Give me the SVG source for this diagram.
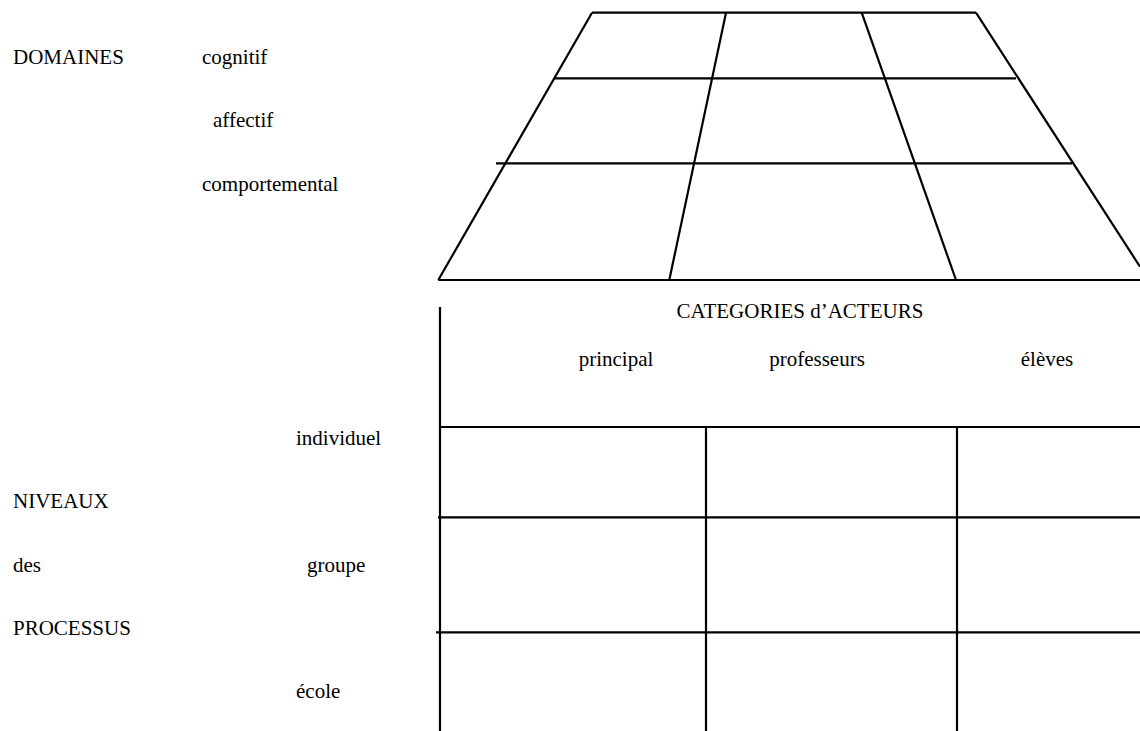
<svg xmlns="http://www.w3.org/2000/svg" width="1140" height="731" viewBox="0 0 1140 731">
<style>
.t{font-family:"Liberation Serif","Times New Roman",serif;font-size:21px;fill:#000}
.l{stroke:#000;stroke-width:2.2;fill:none}
</style>
<rect width="1140" height="731" fill="#fff"/>
<g id="labels-domaines">
<text class="t" x="13" y="64">DOMAINES</text>
<text class="t" x="202" y="64">cognitif</text>
<text class="t" x="213" y="127">affectif</text>
<text class="t" x="202" y="191">comportemental</text>
</g>
<g id="labels-niveaux">
<text class="t" x="13" y="508">NIVEAUX</text>
<text class="t" x="13" y="572">des</text>
<text class="t" x="13" y="635">PROCESSUS</text>
<text class="t" x="296" y="445">individuel</text>
<text class="t" x="307" y="572">groupe</text>
<text class="t" x="296" y="698">école</text>
</g>
<g id="labels-acteurs">
<text class="t" x="800" y="318" text-anchor="middle">CATEGORIES d’ACTEURS</text>
<text class="t" x="616" y="366" text-anchor="middle">principal</text>
<text class="t" x="817" y="366" text-anchor="middle">professeurs</text>
<text class="t" x="1047" y="366" text-anchor="middle">élèves</text>
</g>
<g id="trapeze">
<line class="l" x1="592" y1="12.7" x2="976" y2="12.7"/>
<line class="l" x1="592" y1="12.7" x2="438.3" y2="280"/>
<line class="l" x1="976" y1="12.7" x2="1140" y2="266.7"/>
<line class="l" x1="438.3" y1="280" x2="1140" y2="280"/>
<line class="l" x1="726" y1="12.7" x2="669.3" y2="280"/>
<line class="l" x1="861.7" y1="12.7" x2="956" y2="280"/>
<line class="l" x1="555" y1="78.3" x2="1016" y2="78.3"/>
<line class="l" x1="496" y1="163.3" x2="1072" y2="163.3"/>
</g>
<g id="tableau">
<line class="l" x1="440" y1="307" x2="440" y2="731"/>
<line class="l" x1="440" y1="427" x2="1140" y2="427"/>
<line class="l" x1="438" y1="517.3" x2="1140" y2="517.3"/>
<line class="l" x1="436" y1="632.3" x2="1140" y2="632.3"/>
<line class="l" x1="706" y1="427" x2="706" y2="731"/>
<line class="l" x1="957" y1="427" x2="957" y2="731"/>
</g>
</svg>
